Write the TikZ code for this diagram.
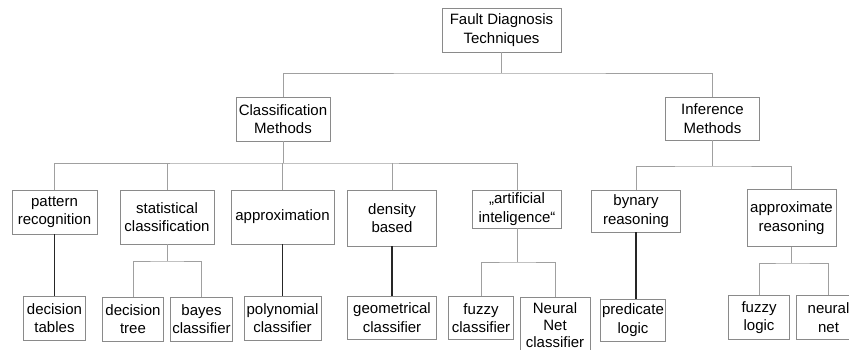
\documentclass[tikz,border=0pt]{standalone}
\usepackage{fontspec}
\setmainfont{Liberation Sans}
\begin{document}
\begin{tikzpicture}[x=1pt, y=-1pt,
  box/.style={draw=boxgray, line width=0.8pt, fill=white, align=center,
    inner sep=0pt, font=\fontsize{15}{18.5}\selectfont},
  link/.style={draw=linkgray, line width=0.8pt},
  solo/.style={draw=black!85, line width=1.3pt}]
\definecolor{boxgray}{HTML}{8A8A8A}
\definecolor{linkgray}{HTML}{A0A0A0}
\useasboundingbox (0,0) rectangle (849,350);
\fill[white] (0,0) rectangle (849,350);
\clip (0,0) rectangle (849,350);

% root
\node[box, minimum width=119pt, minimum height=44pt] (root) at (501.5,30) {Fault Diagnosis\\Techniques};

% first level
\node[box, minimum width=94pt, minimum height=44pt] (cls) at (283,119) {Classification\\Methods};
\node[box, minimum width=94pt, minimum height=43pt] (inf) at (712.5,118.5) {Inference\\Methods};

% second level
\node[box, minimum width=85pt, minimum height=44pt] (pat) at (54.5,212) {pattern\\recognition};
\node[box, minimum width=94pt, minimum height=54pt] (stat) at (167,217) {statistical\\classification};
\node[box, minimum width=103pt, minimum height=54pt] (appr) at (282.5,217) {approximation};
\node[box, minimum width=89pt, minimum height=56pt] (dens) at (392,218) {density\\based};
\node[box, minimum width=89pt, minimum height=38pt] (ai) at (517,209) {„artificial\\inteligence“};
\node[box, minimum width=89pt, minimum height=42pt] (byn) at (636,211) {bynary\\reasoning};
\node[box, minimum width=89pt, minimum height=57pt] (apr) at (791.5,218) {approximate\\reasoning};

% leaves
\node[box, minimum width=62pt, minimum height=44pt] (dtab) at (54.5,318) {decision\\tables};
\node[box, minimum width=61pt, minimum height=44pt] (dtree) at (133,319) {decision\\tree};
\node[box, minimum width=62pt, minimum height=44pt] (bayes) at (201.5,319) {bayes\\classifier};
\node[box, minimum width=77pt, minimum height=44pt] (poly) at (282.5,318) {polynomial\\classifier};
\node[box, minimum width=89pt, minimum height=43pt] (geo) at (392,317.5) {geometrical\\classifier};
\node[box, minimum width=65pt, minimum height=43pt] (fuzc) at (481,318) {fuzzy\\classifier};
\node[box, minimum width=70pt, minimum height=56pt, font=\fontsize{15}{17.2}\selectfont] (nnc) at (555,325) {Neural\\Net\\classifier};
\node[box, minimum width=65pt, minimum height=42pt] (pred) at (633,320) {predicate\\logic};
\node[box, minimum width=61pt, minimum height=44pt] (fuzl) at (759,317.7) {fuzzy\\logic};
\node[box, minimum width=64pt, minimum height=44pt] (nnet) at (828.5,317.7) {neural\\net};

% branch points
\coordinate (j0) at (501.5,73);
\coordinate (j1) at (283,163);
\coordinate (j2) at (712.5,166);
\coordinate (j3) at (167,261);
\coordinate (j4) at (517,262);
\coordinate (j5) at (791.5,263);

% tree connectors
\draw[link] (root.south) -- (j0);
\draw[link] (cls.north) |- (j0) -| (inf.north);

\draw[link] (cls.south) -- (j1);
\draw[link] (pat.north) |- (j1) -| (ai.north);
\draw[link] (stat.north) -- (stat.north |- j1);
\draw[link] (appr.north) -- (appr.north |- j1);
\draw[link] (dens.north) -- (dens.north |- j1);

\draw[link] (inf.south) -- (j2);
\draw[link] (byn.north) |- (j2) -| (apr.north);

\draw[link] (stat.south) -- (j3);
\draw[link] (dtree.north) |- (j3) -| (bayes.north);

\draw[link] (ai.south) -- (j4);
\draw[link] (fuzc.north) |- (j4) -| (nnc.north);

\draw[link] (apr.south) -- (j5);
\draw[link] (fuzl.north) |- (j5) -| (nnet.north);

% single-child connectors
\draw[solo] (pat.south) -- (dtab.north);
\draw[solo] (appr.south) -- (poly.north);
\draw[solo] (dens.south) -- (geo.north);
\draw[solo] (byn.south) -- (byn.south |- pred.north);
\end{tikzpicture}
\end{document}
